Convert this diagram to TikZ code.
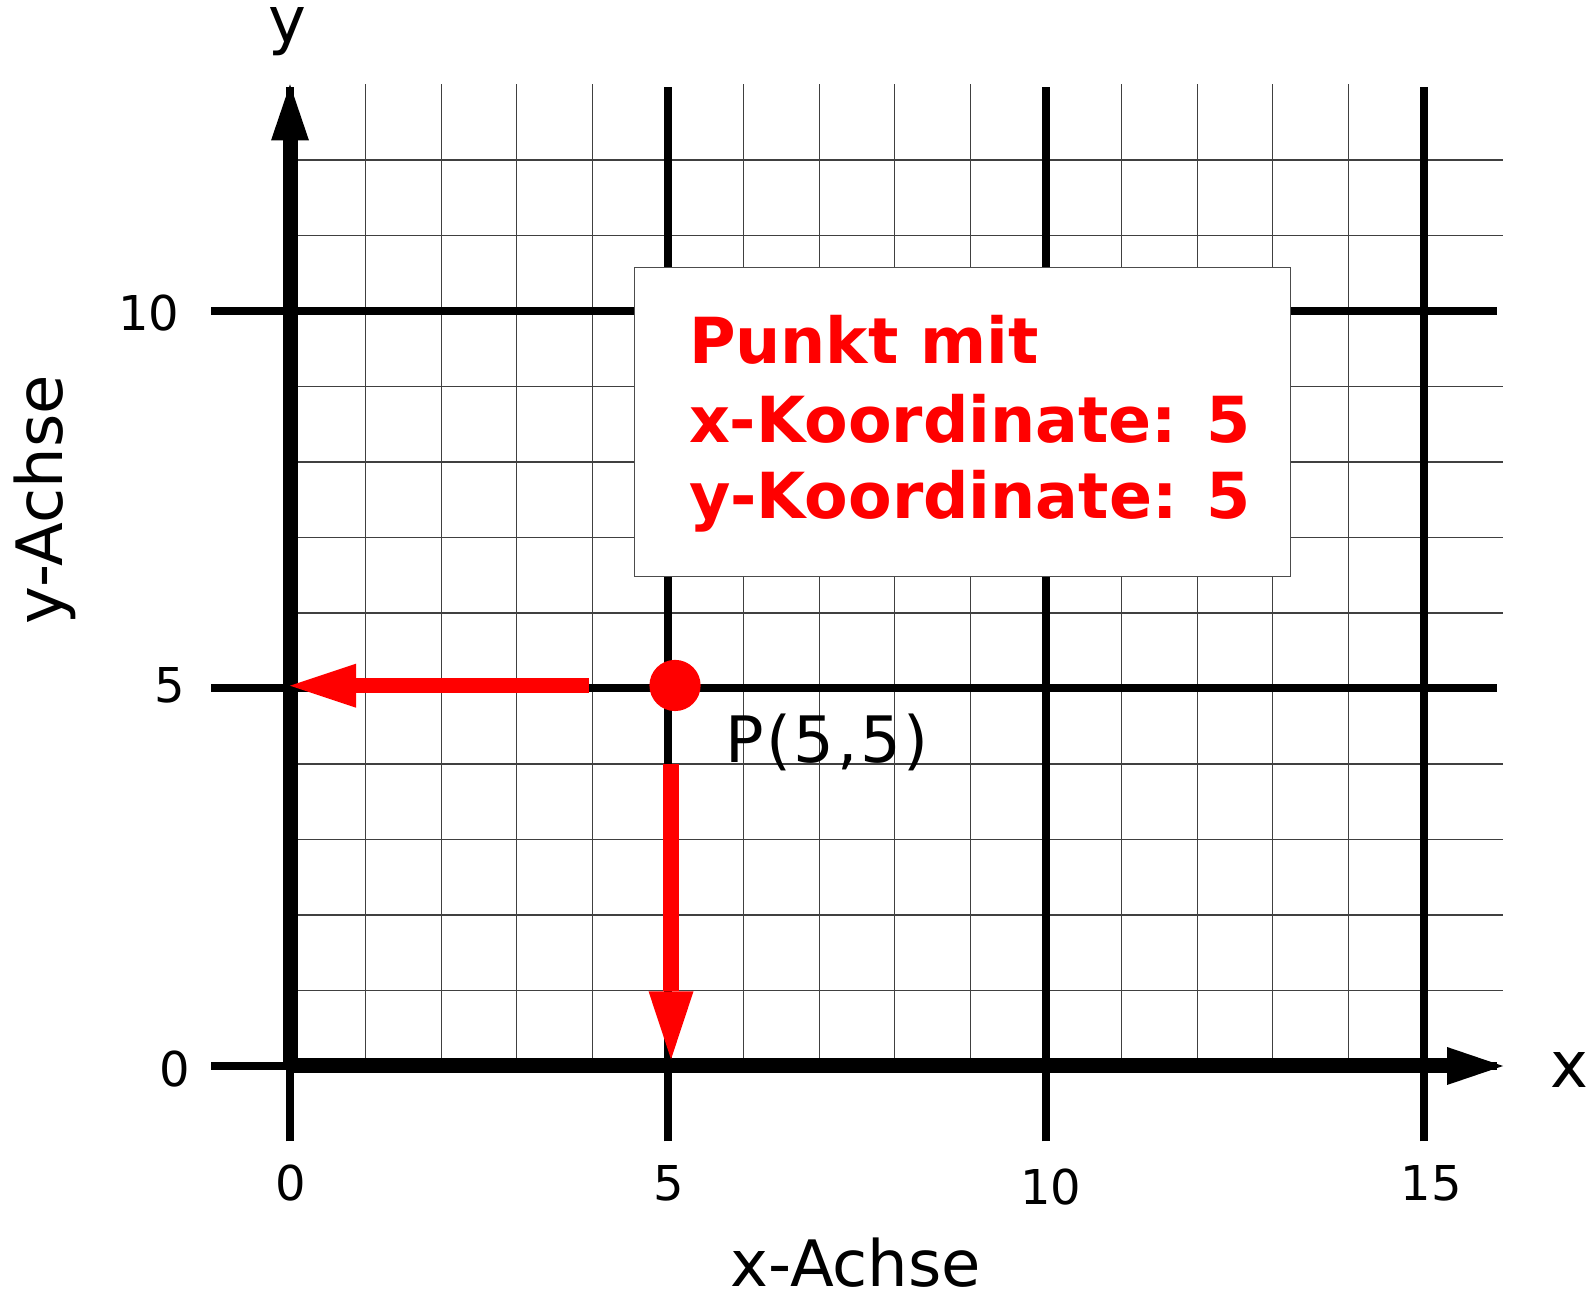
\documentclass[tikz,border=0pt]{standalone}
\usepackage{fontspec}
\setmainfont{DejaVu Sans}
\usetikzlibrary{arrows.meta}
\begin{document}
\begin{tikzpicture}[x=75.6pt,y=75.5pt,
  thingrid/.style={line width=1.3pt, draw=black!75},
  thickgrid/.style={line width=8pt, draw=black},
  axisline/.style={line width=15pt, draw=black, -{Triangle[length=56pt,width=38pt,line width=0pt]}},
  redarrow/.style={line width=15pt, draw=red, -{Triangle[length=66pt,width=44pt,line width=0pt]}},
  biglab/.style={font=\fontsize{64}{70}\selectfont, inner sep=0pt, anchor=base},
  ticklab/.style={font=\fontsize{48}{52}\selectfont, inner sep=0pt, anchor=base},
  boxtext/.style={font=\fontsize{63.5}{70}\selectfont\bfseries, text=red, inner sep=0pt, anchor=base west},
  infobox/.style={draw=black!70, line width=1.5pt, fill=white}
]
\useasboundingbox (-3.836,-3.046) rectangle (17.222,14.119);
% thin grid
\foreach \i in {1,2,3,4,6,7,8,9,11,12,13,14}
  \draw[thingrid] (\i,0) -- (\i,13.0);
\foreach \j in {1,2,3,4,6,7,8,9,11,12}
  \draw[thingrid] (0,\j) -- (16.04,\j);
% thick grid
\foreach \i in {0,5,10,15}
  \draw[thickgrid] (\i,-1.0) -- (\i,12.97);
\foreach \j in {0,5,10}
  \draw[thickgrid] (-1.04,\j) -- (15.97,\j);
% axes
\coordinate (O) at (0,0);
\coordinate (xend) at (16.045,0);
\coordinate (yend) at (0,13.0);
\draw[axisline] (O) -- (xend);
\draw[axisline] (O) -- (yend);
% info box
\node[infobox, minimum width=656pt, minimum height=309pt, anchor=north west] (box) at (4.544,10.583) {};
\node[boxtext] (t1) at (5.275,9.305) {Punkt mit};
\node[boxtext] (t2) at (5.275,8.256) {x-Koordinate: 5};
\node[boxtext] (t3) at (5.275,7.245) {y-Koordinate: 5};
% red arrows
\coordinate (hs) at (3.955,5.037);
\coordinate (ht) at (0.0,5.037);
\coordinate (vs) at (5.04,4.0);
\coordinate (vt) at (5.04,0.089);
\draw[redarrow] (hs) -- (ht);
\draw[redarrow, line width=16pt, -{Triangle[length=68pt,width=45pt,line width=0pt]}] (vs) -- (vt);
\fill[red] (5.093,5.040) circle (25.6pt);
\node[biglab, anchor=base west, font=\fontsize{64}{70}\selectfont\addfontfeatures{LetterSpace=4}] (P) at (5.754,4.02) {P(5,5)};
% axis labels
\node[biglab] (xlab) at (16.93,-0.291) {x};
\node[biglab] (ylab) at (-0.04,13.55) {y};
\node[biglab] (xachse) at (7.483,-2.927) {x-Achse};
\node[biglab, rotate=90] (yachse) at (-3.003,7.497) {y-Achse};
% tick labels
\node[ticklab] (x0) at (0.013,-1.788) {0};
\node[ticklab] (x5) at (5.013,-1.788) {5};
\node[ticklab] (x10) at (10.066,-1.841) {10};
\node[ticklab] (x15) at (15.093,-1.775) {15};
\node[ticklab] (y10) at (-1.865,9.748) {10};
\node[ticklab] (y5) at (-1.594,4.808) {5};
\node[ticklab] (y0) at (-1.521,-0.278) {0};
\end{tikzpicture}
\end{document}
